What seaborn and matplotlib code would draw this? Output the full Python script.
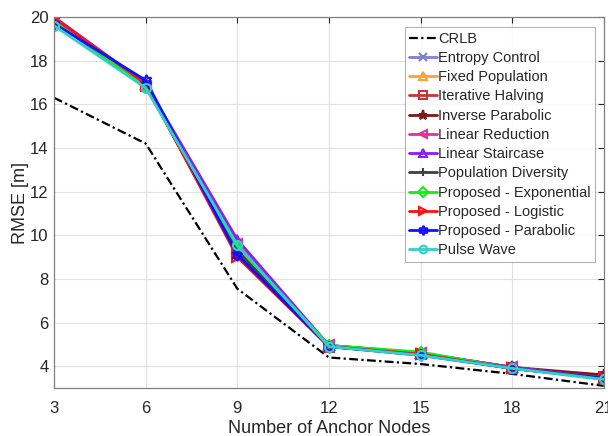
import matplotlib
matplotlib.use("Agg")
import matplotlib.pyplot as plt
import seaborn as sns
import pandas as pd

anchor_nodes = [3, 6, 9, 12, 15, 18, 21]

crlb = [16.3, 14.2, 7.55, 4.4, 4.1, 3.65, 3.1]
entropy_control = [19.8, 16.9, 9.5, 4.95, 4.6, 3.95, 3.45]
fixed_population = [19.9, 16.9, 9.4, 4.95, 4.6, 3.95, 3.45]
iterative_halving = [19.9, 16.85, 9.2, 4.9, 4.55, 3.9, 3.5]
inverse_parabolic = [19.95, 16.9, 9.1, 4.9, 4.55, 3.95, 3.6]
linear_reduction = [19.8, 16.8, 9.6, 4.95, 4.6, 3.95, 3.45]
linear_staircase = [20.0, 16.95, 9.8, 4.95, 4.6, 3.95, 3.45]
population_diversity = [19.9, 16.9, 9.3, 4.9, 4.55, 3.9, 3.45]
proposed_exponential = [19.85, 16.8, 9.5, 4.95, 4.65, 3.9, 3.4]
proposed_logistic = [19.95, 16.95, 9.0, 4.9, 4.55, 3.9, 3.45]
proposed_parabolic = [19.7, 17.1, 9.1, 4.9, 4.5, 3.9, 3.45]
pulse_wave = [19.6, 16.75, 9.55, 4.9, 4.5, 3.9, 3.4]

series = [
    ("CRLB", crlb, "black", None, (0, (4, 1.5, 1, 1.5))),
    ("Entropy Control", entropy_control, "#7f7fd0", "x", "-"),
    ("Fixed Population", fixed_population, "#ffa030", "^", "-"),
    ("Iterative Halving", iterative_halving, "#c03838", "s", "-"),
    ("Inverse Parabolic", inverse_parabolic, "#7a1a1a", "*", "-"),
    ("Linear Reduction", linear_reduction, "#e0309a", "<", "-"),
    ("Linear Staircase", linear_staircase, "#8a20f0", "^", "-"),
    ("Population Diversity", population_diversity, "#404040", "+", "-"),
    ("Proposed - Exponential", proposed_exponential, "#10f010", "D", "-"),
    ("Proposed - Logistic", proposed_logistic, "#ff1010", ">", "-"),
    ("Proposed - Parabolic", proposed_parabolic, "#1010ff", (6, 1, 0), "-"),
    ("Pulse Wave", pulse_wave, "#30d0c8", "o", "-"),
]

sns.set_style("white")
plt.rcParams["font.family"] = ["Liberation Sans", "DejaVu Sans"]

fig = plt.figure(figsize=(6.08, 4.36), dpi=100)
ax = fig.add_axes([0.089, 0.110, 0.904, 0.851])

for name, vals, color, marker, ls in series:
    df = pd.DataFrame({"x": anchor_nodes, "y": vals})
    kw = dict(data=df, x="x", y="y", ax=ax, color=color, label=name,
              linewidth=2 if marker is not None else 1.6, linestyle=ls)
    if marker is not None:
        ms = 6.5 if marker not in ("*", (6, 1, 0)) else 8
        if marker == "D":
            ms = 5.5
        kw.update(marker=marker, markersize=ms, markerfacecolor="none",
                  markeredgecolor=color, markeredgewidth=1.5)
    sns.lineplot(**kw)

ax.set_xlim(3, 21)
ax.set_ylim(3, 20)
ax.set_xticks(anchor_nodes)
ax.set_yticks(range(4, 21, 2))
ax.grid(True, color="#e0e0e0", linewidth=0.8)
ax.tick_params(axis="both", direction="in", length=4, labelsize=12, colors="#262626",
               top=True, right=True)
ax.tick_params(axis="y", pad=4)
ax.tick_params(axis="x", pad=9)
for s in ax.spines.values():
    s.set_color("#808080")
    s.set_linewidth(0.9)
ax.set_xlabel("Number of Anchor Nodes", fontsize=13, color="#262626", labelpad=3)
ax.set_ylabel("RMSE [m]", fontsize=13, color="#262626", labelpad=1)

leg = ax.legend(loc="upper right", bbox_to_anchor=(0.99, 0.98), fontsize=10.5,
                frameon=True, fancybox=False, handlelength=1.9, handletextpad=0.1,
                labelspacing=0.36, borderpad=0.3, borderaxespad=0.2, markerscale=0.85)
leg.get_frame().set_edgecolor("#a0a0a0")
leg.get_frame().set_linewidth(0.8)

fig.savefig("out.png", dpi=100)
